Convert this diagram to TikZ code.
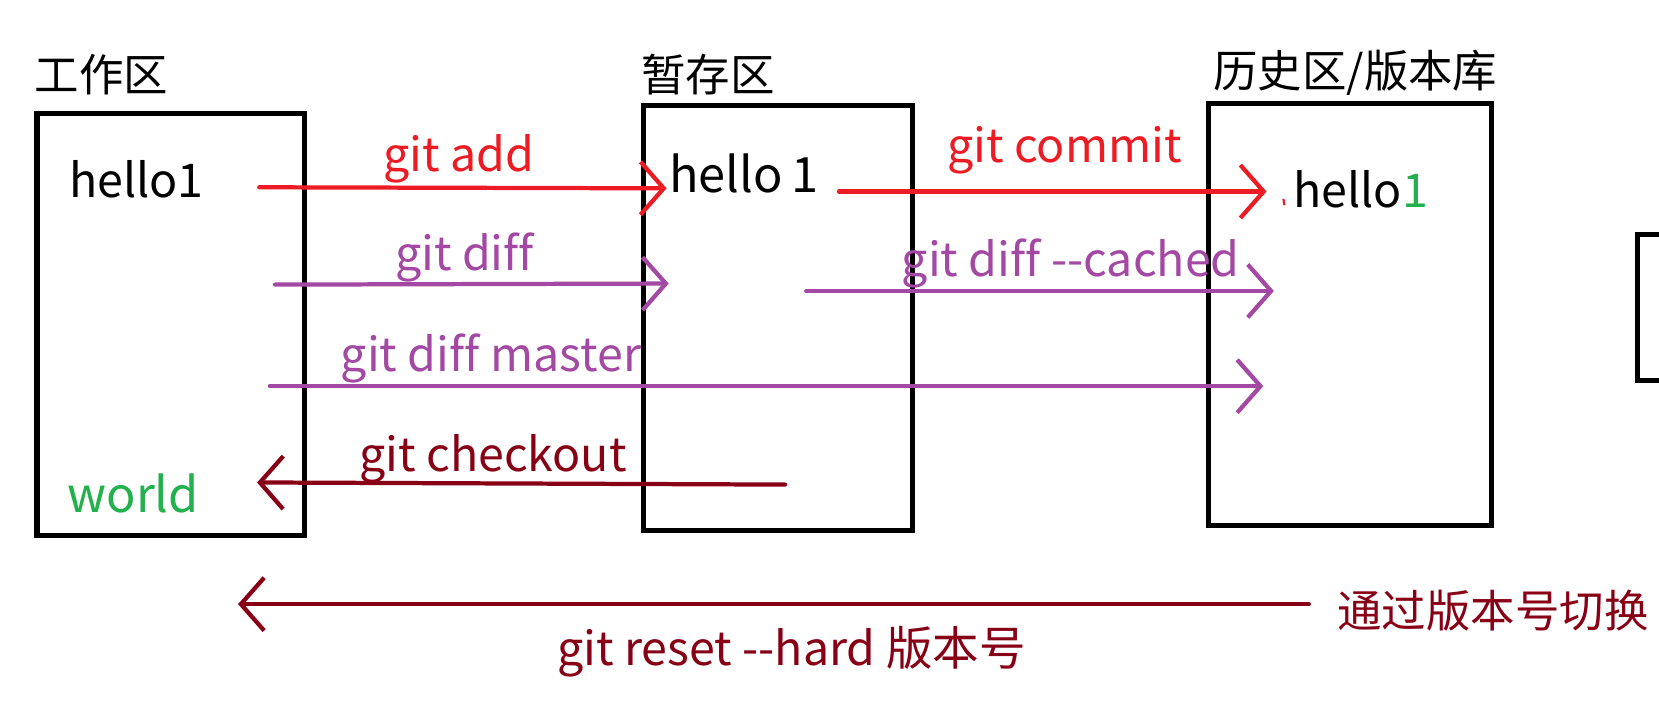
\documentclass[tikz,border=0pt]{standalone}
\usepackage{fontspec}
\setmainfont[Ligatures=NoCommon]{Noto Sans CJK SC}
\usepackage{xcolor}
\usetikzlibrary{arrows.meta}
\definecolor{gitred}{RGB}{237,28,36}
\definecolor{gitpurple}{RGB}{163,73,164}
\definecolor{gitdark}{RGB}{136,0,21}
\definecolor{gitgreen}{RGB}{34,177,76}
\tikzset{
  area/.style={draw, line width=2.4pt, inner sep=0pt},
  title/.style={font=\fontsize{21pt}{24pt}\selectfont},
  word/.style={font=\fontsize{22pt}{26pt}\selectfont, inner sep=0pt},
  cmd/.style={line width=2pt, line cap=round,
    -{Straight Barb[length=11pt, width=25pt]}},
}
\newcommand{\cmdarrow}[3][gitred]{
\draw[cmd, #1] (#2) -- (#3);
}

\begin{document}
\begin{tikzpicture}[x=0.5pt, y=-0.5pt]
\clip (0, 0) rectangle (1568, 685);
\fill[white] (0, 0) rectangle (1568, 685);
% the three areas
\node[area, minimum width=126.5pt, minimum height=199.5pt] at (161.5, 306.5) (work) {};
\node[area, minimum width=127pt, minimum height=200.5pt] at (735, 300.5) (stage) {};
\node[area, minimum width=134pt, minimum height=199.5pt] at (1276, 297.5) (repo) {};
\node[area, minimum width=50pt, minimum height=69pt] at (1598, 291) (more) {};
\node[title, inner sep=0pt] at (96, 71) (worktitle) {工作区};
\node[title, inner sep=0pt] at (669, 70) (stagetitle) {暂存区};
\node[title, inner sep=0pt] at (1281, 69) (repotitle) {历史区/版本库};
% file contents
\node[word] at (129, 169) (workfile) {hello1};
\node[word, text=gitgreen, font=\fontsize{23pt}{26pt}\selectfont] at (126, 466) (workadd) {world};
\node[word, font=\fontsize{23pt}{26pt}\selectfont] at (703, 164) (stagefile) {hello\,1};
\node[word] at (1286, 179) (repofile) {hello\textcolor{gitgreen}{1}};
\draw[gitred, line width=1pt] (1213, 188) -- (1214, 194);
% end points
\coordinate (addA) at (245, 177);
\coordinate (addB) at (630, 178);
\coordinate (commitA) at (793, 181);
\coordinate (commitB) at (1197, 181);
\coordinate (diffA) at (260, 269);
\coordinate (diffB) at (632, 268);
\coordinate (cachedA) at (762, 275);
\coordinate (cachedB) at (1204, 275);
\coordinate (masterA) at (255, 365);
\coordinate (masterB) at (1194, 365);
\coordinate (checkoutA) at (742, 458);
\coordinate (checkoutB) at (243, 456);
\coordinate (resetA) at (1237, 571);
\coordinate (resetB) at (225, 571);
\cmdarrow{addA}{addB}
\cmdarrow{commitA}{commitB}
\cmdarrow[gitpurple]{diffA}{diffB}
\cmdarrow[gitpurple]{cachedA}{cachedB}
\cmdarrow[gitpurple]{masterA}{masterB}
\cmdarrow[gitdark]{checkoutA}{checkoutB}
\cmdarrow[gitdark]{resetA}{resetB}
% labels
\node[word, text=gitred] at (434, 150) (addlabel) {git add};
\node[word, text=gitred] at (1006, 142) (commitlabel) {git commit};
\node[word, text=gitpurple] at (439, 243) (difflabel) {git diff};
\node[word, text=gitpurple] at (1012, 249) (cachedlabel) {git diff {-}{-}cached};
\node[word, text=gitpurple] at (464, 339) (masterlabel) {git diff master};
\node[word, text=gitdark] at (466, 434) (checkoutlabel) {git checkout};
\node[word, text=gitdark] at (748, 616) (resetlabel) {git reset {-}{-}hard 版本号};
\node[title, text=gitdark, inner sep=0pt] at (1411, 577) (resetnote) {通过版本号切换};
\end{tikzpicture}
\end{document}
